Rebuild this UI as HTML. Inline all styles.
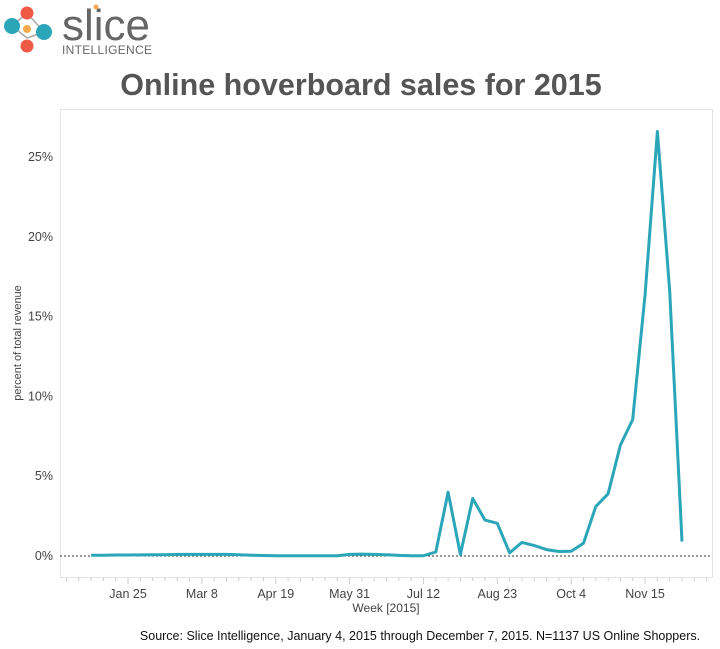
<!DOCTYPE html>
<html><head><meta charset="utf-8"><style>
body{margin:0;background:#fff;width:720px;height:649px;overflow:hidden;font-family:"Liberation Sans",sans-serif}
</style></head><body>
<svg width="720" height="649" style="position:absolute;left:0;top:0">
<g>
<line x1="12" y1="26" x2="27" y2="13" stroke="#aaa" stroke-width="1.5"/>
<line x1="12" y1="26" x2="27" y2="38" stroke="#aaa" stroke-width="1.5"/>
<line x1="27" y1="13" x2="44" y2="32" stroke="#aaa" stroke-width="1.5"/>
<line x1="27" y1="38" x2="44" y2="32" stroke="#aaa" stroke-width="1.5"/>
<circle cx="12" cy="26" r="8" fill="#2aa6b8"/>
<circle cx="27" cy="13" r="6.5" fill="#ee5a45"/>
<circle cx="27" cy="29" r="4" fill="#f5a94a"/>
<circle cx="44" cy="32" r="8" fill="#2aa6b8"/>
<circle cx="27" cy="46" r="6.5" fill="#ee5a45"/>
<text x="62" y="40" font-size="44" fill="#666">slice</text>
<circle cx="96" cy="7" r="2.5" fill="#f5a94a"/>
<text x="62" y="54" font-size="12" fill="#666" letter-spacing="0.3">INTELLIGENCE</text>
</g>
<text x="361" y="95" text-anchor="middle" font-size="30.5" font-weight="bold" fill="#555">Online hoverboard sales for 2015</text>
<rect x="60.5" y="109.5" width="652" height="468" fill="none" stroke="#e3e3e3"/>
<g id="yaxis"></g>
<g id="xaxis"></g>
<line x1="60" y1="556" x2="712" y2="556" stroke="#333" stroke-dasharray="2,2" stroke-width="1"/>
<path id="line" fill="none" stroke="#2aa6b8" stroke-width="3" stroke-linejoin="round"/>
<text transform="translate(21,343) rotate(-90)" text-anchor="middle" font-size="11" fill="#444">percent of total revenue</text>
<text x="386" y="612" text-anchor="middle" font-size="12" fill="#444">Week [2015]</text>
<text x="420" y="640" text-anchor="middle" font-size="12.5" fill="#111">Source: Slice Intelligence, January 4, 2015 through December 7, 2015. N=1137 US Online Shoppers.</text>
</svg>
<script>
const weekValues=[0.05,0.05,0.06,0.06,0.07,0.08,0.08,0.1,0.1,0.1,0.1,0.1,0.08,0.05,0.03,0.02,0.01,0.01,0.01,0.01,0.02,0.1,0.12,0.1,0.08,0.04,0.02,0.02,0.25,4.0,0.1,3.6,2.25,2.05,0.2,0.85,0.65,0.4,0.28,0.3,0.8,3.1,3.9,6.95,8.55,16.4,26.6,16.6,0.9];
const yTicks=[0,5,10,15,20,25];
const xTickLabels=["Jan 25","Mar 8","Apr 19","May 31","Jul 12","Aug 23","Oct 4","Nov 15"];
const xTickWeeks=[3,9,15,21,27,33,39,45];
const NS="http://www.w3.org/2000/svg";
const xs=w=>91.1+w*12.31;
const ys=v=>556-v*15.96;
const ya=document.getElementById('yaxis');
yTicks.forEach(t=>{const tx=document.createElementNS(NS,'text');


tx.setAttribute('x',53);tx.setAttribute('y',ys(t)+4);tx.setAttribute('text-anchor','end');tx.setAttribute('font-size','12.5');tx.setAttribute('fill','#444');tx.textContent=t+'%';ya.appendChild(tx);});
const xa=document.getElementById('xaxis');
for(let w=-2;w<=50;w++){const x=xs(w);if(x<61||x>712)continue;const l=document.createElementNS(NS,'line');


const major=xTickWeeks.includes(w);
l.setAttribute('x1',x);l.setAttribute('x2',x);l.setAttribute('y1',578);l.setAttribute('y2',major?584:581);l.setAttribute('stroke','#ccc');xa.appendChild(l);}
xTickLabels.forEach((lab,i)=>{const tx=document.createElementNS(NS,'text');


tx.setAttribute('x',xs(xTickWeeks[i]));tx.setAttribute('y',598);tx.setAttribute('text-anchor','middle');tx.setAttribute('font-size','12.5');tx.setAttribute('fill','#444');tx.textContent=lab;xa.appendChild(tx);});
document.getElementById('line').setAttribute('d',weekValues.map((v,i)=>(i?'L':'M')+xs(i).toFixed(1)+','+ys(v).toFixed(1)).join(' '));
</script>
</body></html>
